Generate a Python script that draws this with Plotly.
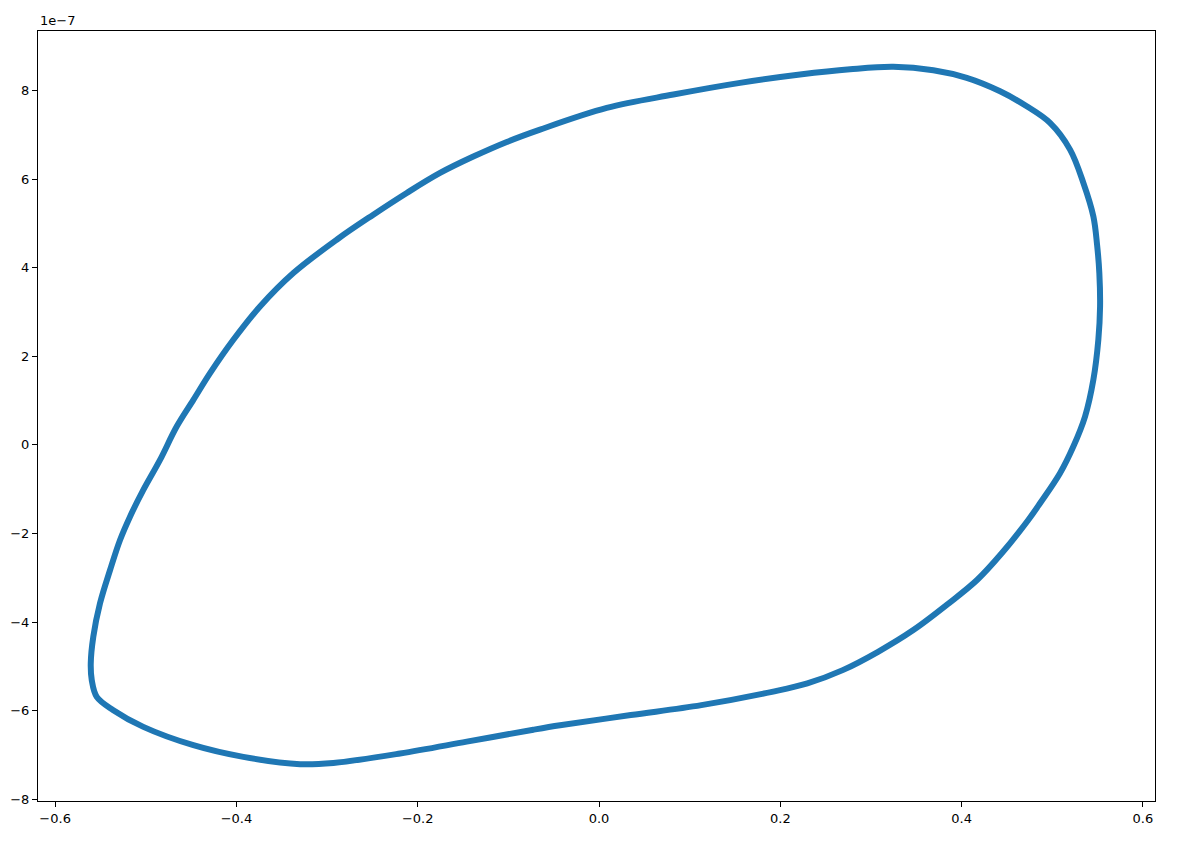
import plotly.graph_objects as go

# Loop values (x in raw units, y in units of 1e-7)
x_vals = [-0.5607, -0.5579, -0.5505, -0.5394, -0.5284, -0.5174, -0.5027, -0.4843,
          -0.4659, -0.4475, -0.4291, -0.4034, -0.3740, -0.3372, -0.2879, -0.2490,
          -0.2121, -0.1754, -0.1387, -0.1018, -0.0651, 0.0085, 0.0820, 0.1555,
          0.2217, 0.2769, 0.3247, 0.3688, 0.4056, 0.4424, 0.4718, 0.4975,
          0.5196, 0.5343, 0.5453, 0.5494, 0.5519, 0.5527, 0.5508, 0.5453,
          0.5361, 0.5232, 0.5085, 0.4865, 0.4735, 0.4442, 0.4170, 0.3858,
          0.3467, 0.3078, 0.2688, 0.2298, 0.1908, 0.1129, 0.0350, -0.0430,
          -0.0725, -0.1459, -0.2195, -0.2931, -0.3298, -0.3924, -0.4475, -0.5027,
          -0.5358, -0.5541, -0.5596, -0.5607]
y_vals = [-4.933, -4.332, -3.577, -2.825, -2.147, -1.620, -1.017, -0.339,
          0.414, 1.017, 1.620, 2.373, 3.125, 3.880, 4.655, 5.198,
          5.688, 6.140, 6.510, 6.840, 7.119, 7.609, 7.910, 8.174,
          8.362, 8.480, 8.536, 8.459, 8.287, 7.984, 7.645, 7.270,
          6.667, 5.914, 5.159, 4.520, 3.880, 3.125, 2.373, 1.469,
          0.640, -0.038, -0.640, -1.318, -1.695, -2.448, -3.051, -3.577,
          -4.181, -4.671, -5.085, -5.385, -5.575, -5.876, -6.100, -6.330,
          -6.430, -6.700, -6.967, -7.180, -7.209, -7.044, -6.780, -6.366,
          -5.989, -5.688, -5.311, -4.933]

x_ticks = [-0.6, -0.4, -0.2, 0.0, 0.2, 0.4, 0.6]
y_ticks = [-8, -6, -4, -2, 0, 2, 4, 6, 8]
y_offset_label = "1e\u22127"

fig = go.Figure()
fig.add_trace(go.Scatter(
    x=x_vals, y=y_vals, mode="lines",
    line=dict(color="#1f77b4", width=6, shape="spline", smoothing=1.0),
    hoverinfo="skip", showlegend=False,
))

axis_common = dict(
    showgrid=False, zeroline=False, showline=True, linecolor="black", linewidth=1,
    mirror=True, ticks="outside", ticklen=5, tickwidth=1, tickcolor="black",
    automargin=False,
    tickfont=dict(family="DejaVu Sans", size=13, color="black"),
)
fig.update_xaxes(range=[-0.6189, 0.6133], tickvals=x_ticks, tickformat=".1f", **axis_common)
fig.update_yaxes(range=[-8.04, 9.345], tickvals=y_ticks, tickformat="d", **axis_common)

fig.add_annotation(text=y_offset_label, xref="paper", yref="paper", x=0, y=1,
                   xanchor="left", yanchor="bottom", showarrow=False, yshift=1,
                   font=dict(family="DejaVu Sans", size=13, color="black"))

fig.update_layout(
    width=1182, height=847, plot_bgcolor="white", paper_bgcolor="white",
    margin=dict(l=38, r=27, t=31, b=46),
)
fig.write_html("out.html", config={"displayModeBar": False},
               post_script="document.body.style.margin='0';")
